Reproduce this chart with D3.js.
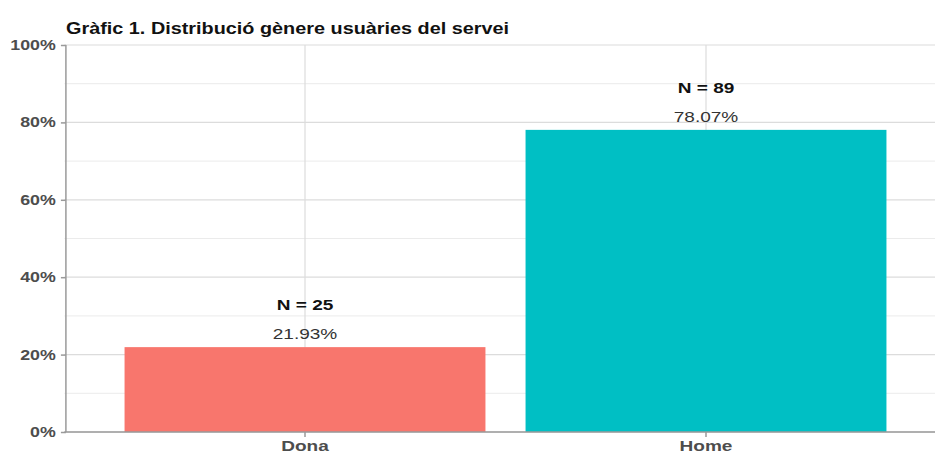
<!DOCTYPE html>
<html><head><meta charset="utf-8">
<script src="https://cdn.jsdelivr.net/npm/d3@7"></script>
<style>body{margin:0;background:#fff}svg{display:block;font-family:"Liberation Sans",Arial,sans-serif}</style>
</head><body><svg id="c" width="935" height="455"></svg>
<script>
const categories = ["Dona", "Home"];
const percents = [21.93, 78.07];
const counts = [25, 89];
const colors = ["#F8766D", "#00BFC4"];
const yTicks = [0, 20, 40, 60, 80, 100];
const yMinor = [10, 30, 50, 70, 90];
const title = "Gràfic 1. Distribució gènere usuàries del servei";

const SX = 1.27; // horizontal text stretch seen in the reference
const svg = d3.select("#c");
const L = 64.4, R = 946.6, T = 45, B = 432;
const x = d3.scaleBand().domain(categories).range([L, R]).paddingInner(0.1).paddingOuter(0.15);
const y = d3.scaleLinear().domain([0, 100]).range([B, T]);

const g = svg.append("g");
// grid
g.selectAll(".minor").data(yMinor).join("line")
  .attr("x1", L).attr("x2", R).attr("y1", d => y(d)).attr("y2", d => y(d))
  .attr("stroke", "#ebebeb").attr("stroke-width", 1);
g.selectAll(".major").data(yTicks).join("line")
  .attr("x1", L).attr("x2", R).attr("y1", d => y(d)).attr("y2", d => y(d))
  .attr("stroke", "#dcdcdc").attr("stroke-width", 1.2);
g.selectAll(".vmaj").data(categories).join("line")
  .attr("x1", d => x(d) + x.bandwidth() / 2).attr("x2", d => x(d) + x.bandwidth() / 2)
  .attr("y1", T).attr("y2", B).attr("stroke", "#dcdcdc").attr("stroke-width", 1.2);

// bars
g.selectAll(".bar").data(categories).join("rect")
  .attr("x", d => x(d)).attr("width", x.bandwidth())
  .attr("y", (d, i) => y(percents[i])).attr("height", (d, i) => B - y(percents[i]))
  .attr("fill", (d, i) => colors[i]);

// labels
g.selectAll(".pl").data(categories).join("text")
  .attr("transform", (d, i) => `translate(${x(d) + x.bandwidth() / 2},${y(percents[i]) - 8}) scale(${SX},1)`)
  .attr("text-anchor", "middle").attr("font-size", 15).attr("fill", "#333")
  .text((d, i) => percents[i].toFixed(2) + "%");
g.selectAll(".nl").data(categories).join("text")
  .attr("transform", (d, i) => `translate(${x(d) + x.bandwidth() / 2},${y(percents[i]) - 37}) scale(${SX},1)`)
  .attr("text-anchor", "middle").attr("font-size", 15).attr("font-weight", "bold").attr("fill", "#111")
  .text((d, i) => "N = " + counts[i]);

// axes
const ya = svg.append("g").attr("transform", `translate(${L + 1.5},0)`)
  .call(d3.axisLeft(y).tickValues(yTicks).tickSize(5).tickPadding(3).tickFormat(d => d + "%"));
ya.select(".domain").attr("stroke", "#9a9a9a").attr("stroke-width", 1.5).attr("d", `M0,${T}V${B}`);
ya.selectAll(".tick line").attr("stroke", "#9a9a9a").attr("stroke-width", 1.5);
ya.selectAll(".tick text").attr("font-size", 14).attr("font-weight", "bold").attr("fill", "#4d4d4d")
  .attr("font-family", "Liberation Sans, Arial, sans-serif").attr("transform", `scale(${SX},1)`);

const xa = svg.append("g").attr("transform", `translate(0,${B})`)
  .call(d3.axisBottom(x).tickSize(5).tickPadding(3));
xa.select(".domain").attr("stroke", "#9a9a9a").attr("stroke-width", 1.5).attr("d", `M${L},0H${R}`);
xa.selectAll(".tick line").attr("stroke", "#9a9a9a").attr("stroke-width", 1.5);
xa.selectAll(".tick text").attr("font-size", 15).attr("font-weight", "bold").attr("fill", "#4d4d4d")
  .attr("font-family", "Liberation Sans, Arial, sans-serif").attr("transform", `scale(${SX},1)`);

svg.append("text").attr("transform", `translate(66,34) scale(1.24,1)`).attr("font-size", 16).attr("font-weight", "bold")
  .attr("fill", "#111").text(title);
</script></body></html>
